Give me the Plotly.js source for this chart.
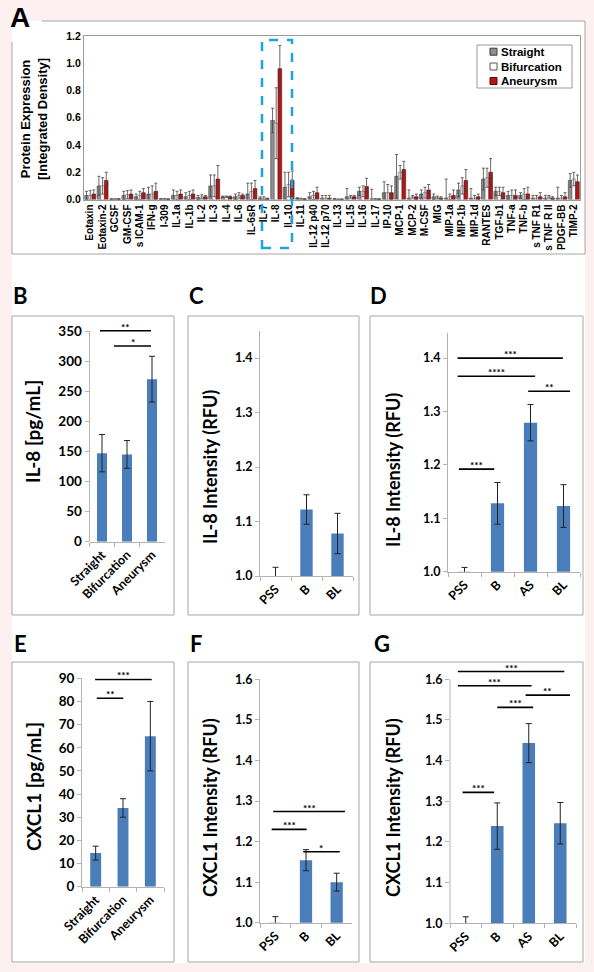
<!DOCTYPE html>
<html><head><meta charset="utf-8">
<script src="https://cdn.plot.ly/plotly-3.0.1.min.js"></script>
<style>html,body{margin:0;padding:0;background:#fcf0f1;}#chart{width:594px;height:972px;}</style>
</head><body><div id="chart"></div><script>
// ---------- Panel A data ----------
const cytokines = ['Eotaxin','Eotaxin-2','GCSF','GM-CSF','s ICAM-1','IFN-g','I-309','IL-1a','IL-1b','IL-2','IL-3','IL-4','IL-6','IL-6sR','IL-7','IL-8','IL-10','IL-11','IL-12 p40','IL-12 p70','IL-13','IL-15','IL-16','IL-17','IP-10','MCP-1','MCP-2','M-CSF','MIG','MIP-1a','MIP-1b','MIP-1d','RANTES','TGF-b1','TNF-a','TNF-b','s TNF R1','s TNF R II','PDGF-BB','TIMP-2'];
const straightVals    = [0.03,0.10,0.003,0.03,0.02,0.04,0.004,0.03,0.02,0.015,0.10,0.02,0.02,0.04,0.01,0.58,0.09,0.008,0.02,0.01,0.004,0.02,0.06,0.005,0.05,0.17,0.01,0.04,0.02,0.01,0.07,0.01,0.15,0.06,0.03,0.03,0.01,0.01,0.01,0.14];
const straightErr     = [0.03,0.07,0.002,0.03,0.02,0.05,0.002,0.04,0.03,0.015,0.08,0.005,0.02,0.08,0.01,0.09,0.11,0.005,0.03,0.02,0.003,0.06,0.03,0.07,0.08,0.16,0.06,0.03,0.02,0.14,0.05,0.07,0.08,0.03,0.03,0.02,0.02,0.02,0.08,0.05];
const bifurcationVals = [0.03,0.10,0.003,0.035,0.03,0.04,0.004,0.03,0.03,0.02,0.10,0.02,0.03,0.06,0.01,0.56,0.11,0.005,0.03,0.01,0.002,0.02,0.06,0.003,0.05,0.20,0.02,0.05,0.015,0.02,0.10,0.01,0.16,0.06,0.03,0.04,0.01,0.02,0.01,0.15];
const bifurcationErr  = [0.035,0.06,0.002,0.03,0.03,0.06,0.002,0.03,0.03,0.015,0.08,0.005,0.02,0.06,0.01,0.26,0.09,0.004,0.03,0.02,0.002,0.01,0.04,0.003,0.06,0.05,0.01,0.04,0.01,0.02,0.06,0.02,0.07,0.03,0.04,0.04,0.02,0.01,0.02,0.05];
const aneurysmVals    = [0.04,0.14,0.004,0.04,0.05,0.06,0.003,0.04,0.04,0.02,0.15,0.02,0.03,0.08,0.005,0.96,0.14,0.003,0.05,0.01,0.002,0.02,0.095,0.003,0.05,0.22,0.02,0.07,0.01,0.03,0.14,0.02,0.20,0.05,0.03,0.04,0.02,0.01,0.02,0.13];
const aneurysmErr     = [0.03,0.06,0.002,0.03,0.03,0.06,0.002,0.03,0.03,0.01,0.10,0.005,0.01,0.06,0.005,0.17,0.07,0.003,0.04,0.02,0.002,0.01,0.06,0.003,0.05,0.06,0.02,0.04,0.01,0.04,0.08,0.02,0.10,0.04,0.04,0.05,0.03,0.01,0.03,0.05];

// ---------- Panels B & E (pg/mL) ----------
const tissueCats = ['Straight','Bifurcation','Aneurysm'];
const il8Conc = [147,145,270];
const il8ConcErr = [31,23,38];
const cxcl1Conc = [14.5,34,65];
const cxcl1ConcErr = [3,4,15];

// ---------- Panels C, D, F, G (RFU) ----------
const catsThree = ['PSS','B','BL'];
const catsFour = ['PSS','B','AS','BL'];
const il8RfuC = [1.0,1.122,1.078];
const il8RfuCErr = [0.016,0.027,0.037];
const il8RfuD = [1.0,1.128,1.279,1.123];
const il8RfuDErr = [0.008,0.039,0.034,0.040];
const cxcl1RfuF = [1.0,1.154,1.100];
const cxcl1RfuFErr = [0.015,0.026,0.022];
const cxcl1RfuG = [1.0,1.239,1.443,1.246];
const cxcl1RfuGErr = [0.016,0.057,0.048,0.051];

// significance brackets (category-unit start/end, value level, label)
const sigB = {x0:[-0.08,0.48], x1:[1.96,1.96], y:[350.5,325], label:['**','*']};
const sigD = {x0:[-0.21,-0.21,1.93,-0.17], x1:[2.98,2.14,3.20,0.90], y:[1.400,1.366,1.338,1.192], label:['***','****','**','***']};
const sigE = {x0:[-0.02,0.04], x1:[2.05,1.01], y:[89.5,81.4], label:['***','**']};
const sigF = {x0:[-0.07,-0.12,0.91], x1:[2.27,1.02,2.10], y:[1.274,1.230,1.175], label:['***','***','*']};
const sigG = {x0:[-0.25,-0.25,1.90,1.00,-0.10], x1:[3.13,2.09,3.31,2.14,0.90], y:[1.619,1.584,1.561,1.531,1.322], label:['***','***','**','***','***']};

// ---------- helpers ----------
const W = 594, H = 972;
const X = p => p / W, Y = p => 1 - p / H;
const ARIAL = 'Liberation Sans, Arial, sans-serif';
const CAL = 'Lato, Carlito, Calibri, sans-serif';
const BLUE = '#4a7ebb';
const AX = '#b3b3b3';

const traces = [];
function errCfg(arr, c, t, w){ return {type:'data', array:arr, visible:true, color:c, thickness:t, width:w}; }

traces.push({type:'bar', name:'Straight', x:cytokines, y:straightVals, error_y:errCfg(straightErr,'#444',0.8,1.5),
  marker:{color:'#8f8f8f', line:{color:'#3a3a3a', width:0.6}}, xaxis:'x', yaxis:'y', showlegend:false});
traces.push({type:'bar', name:'Bifurcation', x:cytokines, y:bifurcationVals, error_y:errCfg(bifurcationErr,'#444',0.8,1.5),
  marker:{color:'#ffffff', line:{color:'#7a7a7a', width:0.6}}, xaxis:'x', yaxis:'y', showlegend:false});
traces.push({type:'bar', name:'Aneurysm', x:cytokines, y:aneurysmVals, error_y:errCfg(aneurysmErr,'#444',0.8,1.5),
  marker:{color:'#b51616', line:{color:'#5a0a0a', width:0.6}}, xaxis:'x', yaxis:'y', showlegend:false});

function single(cats, vals, errs, n){
  traces.push({type:'bar', x:cats, y:vals, width:0.4, error_y:errCfg(errs,'#222',1,3),
    marker:{color:BLUE, line:{width:0}}, xaxis:'x'+n, yaxis:'y'+n, showlegend:false});
}
single(tissueCats, il8Conc, il8ConcErr, 2);
single(catsThree, il8RfuC, il8RfuCErr, 3);
single(catsFour, il8RfuD, il8RfuDErr, 4);
single(tissueCats, cxcl1Conc, cxcl1ConcErr, 5);
single(catsThree, cxcl1RfuF, cxcl1RfuFErr, 6);
single(catsFour, cxcl1RfuG, cxcl1RfuGErr, 7);

const layout = {
  width: W, height: H, margin:{l:0,r:0,t:0,b:0},
  paper_bgcolor:'#fcf0f1', plot_bgcolor:'rgba(0,0,0,0)',
  barmode:'group', bargap:0.12, bargroupgap:0,
  showlegend:false,
  shapes:[], annotations:[]
};

// Panel A axes
layout.xaxis = {domain:[X(84),X(580)], type:'category', range:[-0.5,39.5], tickangle:-90,
  tickmode:'linear', tick0:0, dtick:1,
  tickfont:{family:ARIAL,size:10,color:'#000',weight:700}, showline:true, linecolor:'#9a9a9a', mirror:true,
  ticks:'', showgrid:false, zeroline:false, anchor:'y'};
layout.yaxis = {domain:[Y(199.5),Y(36)], range:[0,1.2], tickvals:[0,0.2,0.4,0.6,0.8,1.0,1.2], tickformat:'.1f',
  tickfont:{family:ARIAL,size:10.5,color:'#000',weight:700}, showline:true, linecolor:'#9a9a9a', mirror:true,
  ticks:'', showgrid:false, zeroline:false, anchor:'x'};

function smallAxes(n, x0, x1, yb, yt, range, tickvals, fmt, showLine){
  layout['xaxis'+n] = {domain:[X(x0),X(x1)], type:'category', tickangle:-45, tickson:'boundaries',
    ticks:'outside', ticklen:4, tickcolor:AX, showline:true, linecolor:AX, showgrid:false, zeroline:false,
    tickfont:{family:CAL,size:12.5,color:'#000',weight:700}, anchor:'y'+n};
  layout['yaxis'+n] = {domain:[Y(yb),Y(yt)], range:range, tickvals:tickvals, tickformat:fmt,
    ticks:'outside', ticklen:4, tickcolor:AX, showline:showLine, linecolor:AX, showgrid:false, zeroline:false,
    tickfont:{family:CAL,size:12.5,color:'#000',weight:700}, anchor:'x'+n};
}
smallAxes(2, 89.5, 164.5, 541.7, 325, [0,360], [0,50,100,150,200,250,300,350], '', false);
smallAxes(3, 260, 353, 576, 330.75, [1,1.45], [1.0,1.1,1.2,1.3,1.4], '.1f', true);
smallAxes(4, 448, 580, 571.7, 333, [1,1.447], [1.0,1.1,1.2,1.3,1.4], '.1f', true);
smallAxes(5, 82, 164, 886.7, 678.3, [0,90], [0,10,20,30,40,50,60,70,80,90], '', true);
smallAxes(6, 260, 352, 922.7, 679.3, [1,1.6], [1.0,1.1,1.2,1.3,1.4,1.5,1.6], '.1f', true);
smallAxes(7, 450, 576, 923.3, 669.1, [1,1.625], [1.0,1.1,1.2,1.3,1.4,1.5,1.6], '.1f', false);
layout.yaxis2.tickfont.size = 13.5; layout.yaxis5.tickfont.size = 13.5;
layout.xaxis3.range=[-0.5,2.5]; layout.xaxis6.range=[-0.5,2.5];
layout.xaxis4.range=[-0.5,3.5]; layout.xaxis7.range=[-0.5,3.5];
layout.xaxis2.range=[-0.5,2.5]; layout.xaxis5.range=[-0.5,2.5];

const S = layout.shapes, A = layout.annotations;
// white sheet + panel frames
S.push({type:'rect', xref:'paper', yref:'paper', x0:X(12), x1:X(585), y0:Y(963), y1:Y(21), fillcolor:'#ffffff', line:{width:0}, layer:'below'});
S.push({type:'path', xref:'paper', yref:'paper', layer:'below', line:{color:'#a6a6a6', width:1},
  path:`M ${X(42)},${Y(21)} L ${X(585)},${Y(21)} L ${X(585)},${Y(254)} L ${X(12)},${Y(254)} L ${X(12)},${Y(42)}`});
const frames = [[12,316,174,615],[188,316,359,615],[370,316,583,615],[12,662,174,962],[188,662,359,962],[370,662,583,962]];
frames.forEach(f => S.push({type:'rect', xref:'paper', yref:'paper', x0:X(f[0]), x1:X(f[2]), y0:Y(f[3]), y1:Y(f[1]), line:{color:'#a6a6a6', width:1}, layer:'below'}));
// y-axis lines for panels whose brackets rise above the top tick
S.push({type:'line', xref:'paper', yref:'paper', x0:X(89.5), x1:X(89.5), y0:Y(541.7), y1:Y(331), line:{color:AX, width:1}});
S.push({type:'line', xref:'paper', yref:'paper', x0:X(450), x1:X(450), y0:Y(923.3), y1:Y(679.3), line:{color:AX, width:1}});
// blue dashed highlight around IL-7/IL-8/IL-10
S.push({type:'rect', xref:'paper', yref:'paper', x0:X(262), x1:X(292), y0:Y(248), y1:Y(40), line:{color:'#1ea3e0', width:2.5, dash:'dash'}});
// legend (panel A)
S.push({type:'rect', xref:'paper', yref:'paper', x0:X(477), x1:X(572), y0:Y(88), y1:Y(45), line:{color:'#9a9a9a', width:1}, fillcolor:'#ffffff'});
const legItems = [['Straight','#8f8f8f','#3a3a3a',51.7],['Bifurcation','#ffffff','#555',66.5],['Aneurysm','#b51616','#5a0a0a',81]];
legItems.forEach(it => {
  S.push({type:'rect', xref:'paper', yref:'paper', x0:X(490), x1:X(497), y0:Y(it[3]+3.5), y1:Y(it[3]-3.5), fillcolor:it[1], line:{color:it[2], width:1}});
  A.push({xref:'paper', yref:'paper', x:X(499), y:Y(it[3]), xanchor:'left', yanchor:'middle', showarrow:false, text:it[0],
    font:{family:ARIAL, size:11.5, color:'#000', weight:700}});
});

// significance brackets
function brackets(sig, n){
  for (let i=0;i<sig.y.length;i++){
    S.push({type:'line', xref:'x'+n, yref:'y'+n, x0:sig.x0[i], x1:sig.x1[i], y0:sig.y[i], y1:sig.y[i], line:{color:'#000', width:1.6}});
    A.push({xref:'x'+n, yref:'y'+n, x:(sig.x0[i]+sig.x1[i])/2, y:sig.y[i], yanchor:'bottom', yshift:-4, showarrow:false,
      text:sig.label[i], font:{family:CAL, size:10, color:'#000', weight:700}});
  }
}
brackets(sigB,2); brackets(sigD,4); brackets(sigE,5); brackets(sigF,6); brackets(sigG,7);

// panel letters
const letters = [['A',8,18,ARIAL,28],['B',11,295,CAL,22],['C',187,295,CAL,22],['D',368,295,CAL,22],['E',12,643,CAL,22],['F',188,643,CAL,22],['G',372,643,CAL,22]];
letters.forEach(l => A.push({xref:'paper', yref:'paper', x:X(l[1]), y:Y(l[2]), xanchor:'left', yanchor:'middle', showarrow:false,
  text:l[0], font:{family:l[3], size:l[4], color:'#000', weight:700}}));

// y-axis titles
const ytitles = [
  ['Protein Expression<br>[Integrated Density]', 34, 119, ARIAL, 13],
  ['IL-8 [pg/mL]', 32, 432, CAL, 19],
  ['IL-8 Intensity (RFU)', 210, 467, CAL, 18],
  ['IL-8 Intensity (RFU)', 393, 470, CAL, 18],
  ['CXCL1 [pg/mL]', 33, 787, CAL, 19],
  ['CXCL1 Intensity (RFU)', 210, 808, CAL, 18],
  ['CXCL1 Intensity (RFU)', 393, 808, CAL, 18]
];
ytitles.forEach(t => A.push({xref:'paper', yref:'paper', x:X(t[1]), y:Y(t[2]), xanchor:'center', yanchor:'middle', textangle:-90,
  showarrow:false, text:t[0], font:{family:t[3], size:t[4], color:'#000', weight:700}}));

Plotly.newPlot('chart', traces, layout, {staticPlot:true, displayModeBar:false});
</script></body></html>
